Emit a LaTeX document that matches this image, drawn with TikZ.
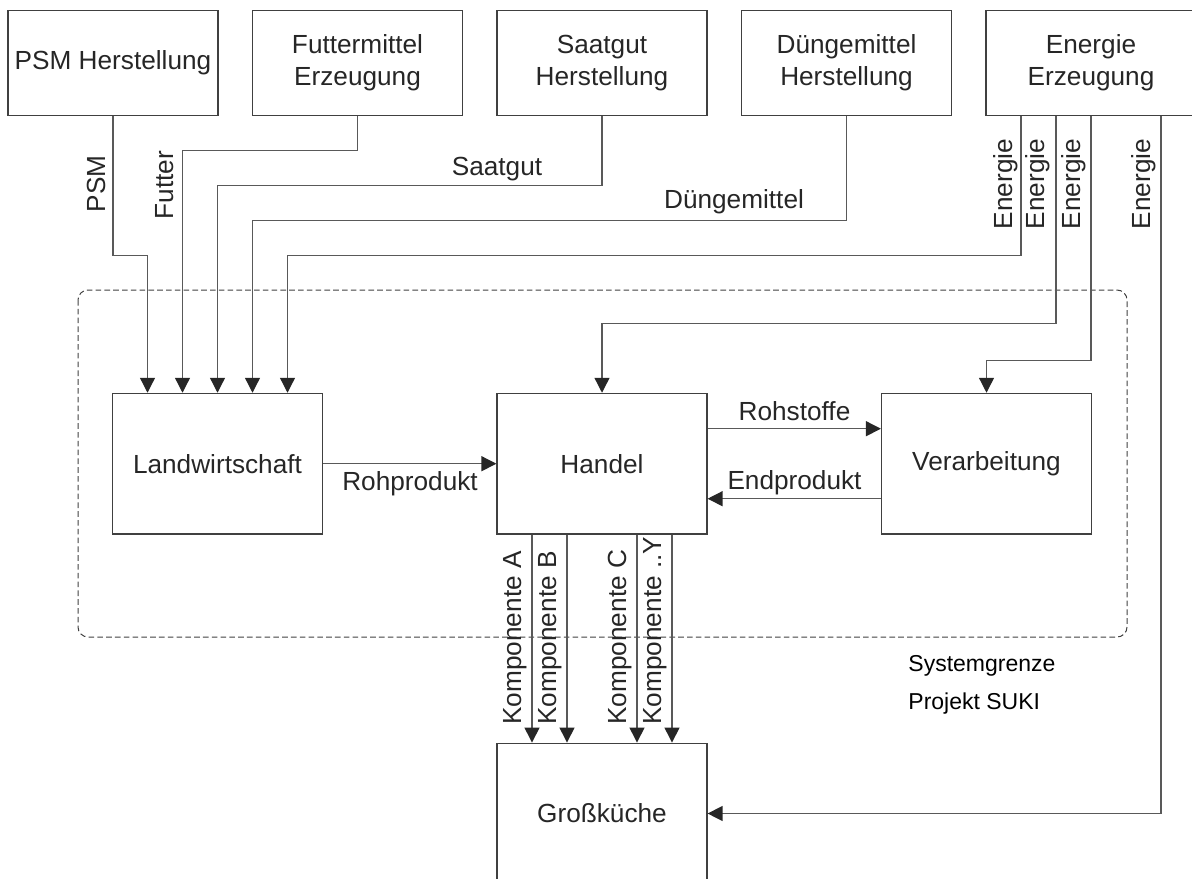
\documentclass[tikz,border=0pt]{standalone}
\usepackage{fontspec}
\setmainfont{Liberation Sans}
\usetikzlibrary{calc,arrows.meta}

\begin{document}
\begin{tikzpicture}[x=0.5pt,y=-0.5pt,
		font=\fontsize{13.1}{16.2}\selectfont,
		srcbox/.style={draw=black!75, line width=0.6pt, text=black!85, align=center, inner sep=0pt, minimum width=105pt, minimum height=52.25pt},
		procbox/.style={srcbox, minimum height=70.35pt},
		flow/.style={draw=black!65, line width=0.65pt, -{Triangle[length=7.5pt,width=7.5pt,color=black!85]}},
		grenze/.style={draw=black!75, line width=0.5pt, dash pattern=on 2.8pt off 1.6pt, rounded corners=5pt},
		lbl/.style={text=black!85, inner sep=0pt}]
		%%%%% START %%%%%
		\useasboundingbox (0,0) rectangle (1192,878);
		
		\draw[grenze] (78,290) rectangle (1127,637);
		
		\node[srcbox] (psm) at (113,62.85) {PSM Herstellung};
		\node[srcbox] (fm) at (357.5,62.85) {Futtermittel\\Erzeugung};
		\node[srcbox] (sg) at (602,62.85) {Saatgut\\Herstellung};
		\node[srcbox] (dm) at (846.5,62.85) {Düngemittel\\Herstellung};
		\node[srcbox] (ee) at (1091,62.85) {Energie\\Erzeugung};
		
		\node[procbox] (lw) at (217.5,463.7) {Landwirtschaft};
		\node[procbox] (ha) at (602,463.7) {Handel};
		\node[procbox] (vb) at (986.5,463.7) {Verarbeitung};
		\node[procbox] (gk) at (602,813.5) {Großküche};
		
		\foreach \dx/\n in {-70/1,-35/2,0/3,35/4,70/5}
			\coordinate (lw\n) at ($(lw.north)+(\dx,0)$);
		
		\draw[flow] (psm.south) -- ++(0,140) -| (lw1);
		\draw[flow] (fm.south) -- ++(0,35) -| (lw2);
		\draw[flow] (sg.south) -- ++(0,70) -| (lw3);
		\draw[flow] (dm.south) -- ++(0,105) -| (lw4);
		\draw[flow] ($(ee.south)+(-70,0)$) -- ++(0,140) -| (lw5);
		\draw[flow] ($(ee.south)+(-35,0)$) -- ++(0,208) -| (ha.north);
		\draw[flow] (ee.south) -- ++(0,245) -| (vb.north);
		\draw[flow] ($(ee.south)+(70,0)$) |- (gk.east);
		
		\node[lbl,rotate=90] (lpsm) at (96,184) {PSM};
		\node[lbl,rotate=90] (lfut) at (165,185) {Futter};
		\node[lbl,anchor=base] (lsaat) at (497,175) {Saatgut};
		\node[lbl,anchor=base] (ldung) at (734,208) {Düngemittel};
		\foreach \x/\n in {1006/1,1038/2,1074/3,1144/4}
			\node[lbl,rotate=90] (len\n) at (\x,184) {Energie};
		
		\draw[flow] (lw.east) -- (ha.west);
		\draw[flow] ($(ha.east)+(0,-35)$) -- ($(vb.west)+(0,-35)$);
		\draw[flow] ($(vb.west)+(0,35)$) -- ($(ha.east)+(0,35)$);
		\node[lbl,anchor=base] (lroh) at (410,490) {Rohprodukt};
		\node[lbl,anchor=base] (lstoff) at (794.5,420) {Rohstoffe};
		\node[lbl,anchor=base] (lend) at (794.5,489.5) {Endprodukt};
		
		\foreach \dx/\x/\n/\t in {-70/515/a/A,-35/550/b/B,35/620/c/C,70/655/y/{..Y}} {
			\draw[flow] ($(ha.south)+(\dx,0)$) -- ($(gk.north)+(\dx,0)$);
			\node[lbl,rotate=90,anchor=west] (komp\n) at (\x,725) {Komponente \t};
		}
		
		\node[lbl,anchor=base west,text=black,font=\fontsize{11.5}{14}\selectfont] (sgr1) at (908,671) {Systemgrenze};
		\node[lbl,anchor=base west,text=black,font=\fontsize{11.5}{14}\selectfont] (sgr2) at (908,709) {Projekt SUKI};
		%%%%% END %%%%%
	\end{tikzpicture}
\end{document}
